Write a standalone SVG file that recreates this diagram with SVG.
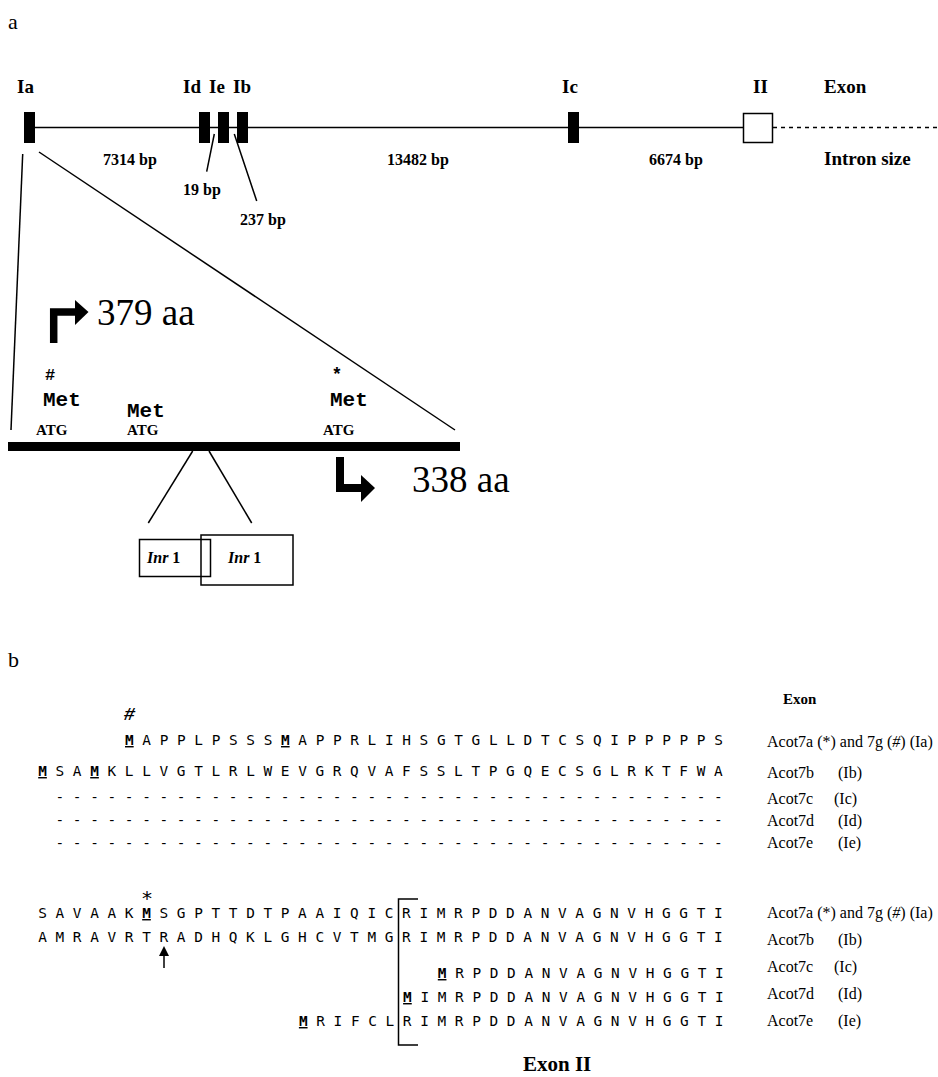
<svg xmlns="http://www.w3.org/2000/svg" width="938" height="1077" viewBox="0 0 938 1077">
<style>
.ser{font-family:"Liberation Serif","Times New Roman",serif;fill:#000}
.b{font-weight:bold}
.lbl{font-family:"Liberation Serif","Times New Roman",serif;font-weight:bold;font-size:19px}
.bp{font-family:"Liberation Serif","Times New Roman",serif;font-weight:bold;font-size:16px}
.seq{font-family:"DejaVu Sans Mono",monospace;font-size:14.4px;white-space:pre;fill:#000}
.m{font-weight:bold;text-decoration:underline}
.mono{font-family:"Liberation Mono","Courier New",monospace;font-weight:bold}
.acot{font-family:"Liberation Serif","Times New Roman",serif;font-size:16px}
.ln{stroke:#000;stroke-width:1.5;fill:none}
.ex{fill:#000}
</style>
<text class="ser" x="8" y="29" font-size="22">a</text>
<text class="ser" x="8" y="667" font-size="22">b</text>

<g id="gene">
  <line class="ln" x1="35" y1="127.5" x2="743" y2="127.5"/>
  <line class="ln" x1="773" y1="127.5" x2="938" y2="127.5" stroke-dasharray="4 4"/>
</g>
<g id="exonIa"><rect class="ex" x="24" y="112" width="11" height="31"/><text class="lbl" x="17" y="93">Ia</text></g>
<g id="exonId"><rect class="ex" x="199" y="112" width="11" height="31"/><text class="lbl" x="183" y="93">Id</text></g>
<g id="exonIe"><rect class="ex" x="218" y="112" width="11" height="31"/><text class="lbl" x="209" y="93">Ie</text></g>
<g id="exonIb"><rect class="ex" x="237" y="112" width="11" height="31"/><text class="lbl" x="233" y="93">Ib</text></g>
<g id="exonIc"><rect class="ex" x="568" y="112" width="11" height="31"/><text class="lbl" x="562" y="93">Ic</text></g>
<g id="exonII"><rect x="743.5" y="113.5" width="29" height="29" fill="#fff" stroke="#000" stroke-width="1.5"/><text class="lbl" x="753" y="93">II</text></g>
<g id="legend">
  <text class="lbl" x="824" y="93">Exon</text>
  <text class="lbl" x="824" y="165">Intron size</text>
</g>
<g id="introns">
  <text class="bp" x="103" y="165">7314 bp</text>
  <text class="bp" x="387" y="165">13482 bp</text>
  <text class="bp" x="649" y="165">6674 bp</text>
  <text class="bp" x="183" y="195">19 bp</text>
  <text class="bp" x="240" y="225">237 bp</text>
</g>

<g id="connectors">
  <line class="ln" x1="214.3" y1="134" x2="206.7" y2="171.7"/>
  <line class="ln" x1="234.3" y1="134" x2="256.7" y2="201"/>
  <line class="ln" x1="22.7" y1="154" x2="11" y2="430"/>
  <line class="ln" x1="39" y1="152" x2="455" y2="430"/>
  <line class="ln" x1="192.7" y1="451" x2="148.3" y2="523"/>
  <line class="ln" x1="209" y1="451" x2="251.7" y2="523"/>
</g>

<g id="promoter">
  <rect x="8" y="442" width="452" height="9" fill="#000"/>
  <path d="M53.7,343 V312 H77" fill="none" stroke="#000" stroke-width="7.5" stroke-linejoin="miter"/>
  <polygon points="75,300 88.5,312 75,325" fill="#000"/>
  <text class="ser" x="97" y="325" font-size="37">379 aa</text>
  <path d="M340,457 V488 H363" fill="none" stroke="#000" stroke-width="8" stroke-linejoin="miter"/>
  <polygon points="361,475 375,488 361,502" fill="#000"/>
  <text class="ser" x="412" y="492" font-size="37">338 aa</text>
  <text class="mono" x="50" y="380" font-size="17" text-anchor="middle">#</text>
  <text class="mono" x="43" y="406" font-size="21">Met</text>
  <text class="mono" x="127" y="417" font-size="21">Met</text>
  <text class="mono" x="337" y="380" font-size="18" text-anchor="middle">*</text>
  <text class="mono" x="330" y="406" font-size="21">Met</text>
  <text class="ser b" x="36" y="435" font-size="15">ATG</text>
  <text class="ser b" x="127" y="435" font-size="15">ATG</text>
  <text class="ser b" x="323" y="435" font-size="15">ATG</text>
</g>
<g id="inr1">
  <rect x="139.5" y="539.5" width="71" height="37" fill="none" stroke="#000" stroke-width="1.5"/>
  <text class="ser b" x="147" y="563" font-size="16"><tspan font-style="italic">Inr</tspan> 1</text>
</g>
<g id="inr2">
  <rect x="201" y="535" width="92" height="50" fill="none" stroke="#000" stroke-width="1.5"/>
  <text class="ser b" x="228" y="563" font-size="16"><tspan font-style="italic">Inr</tspan> 1</text>
</g>

<g id="alignment1">
  <text class="ser b" x="783" y="704" font-size="15">Exon</text>
  <text class="mono" x="129.4" y="720" font-size="19" text-anchor="middle" font-style="italic">#</text>
  <text class="seq" x="125" y="745"><tspan class="m">M</tspan> A P P L P S S S <tspan class="m">M</tspan> A P P R L I H S G T G L L D T C S Q I P P P P P S</text>
  <text class="seq" x="38.2" y="776"><tspan class="m">M</tspan> S A <tspan class="m">M</tspan> K L L V G T L R L W E V G R Q V A F S S L T P G Q E C S G L R K T F W A</text>
  <text class="seq" x="55.5" y="802">- - - - - - - - - - - - - - - - - - - - - - - - - - - - - - - - - - - - - - -</text>
  <text class="seq" x="55.5" y="825">- - - - - - - - - - - - - - - - - - - - - - - - - - - - - - - - - - - - - - -</text>
  <text class="seq" x="55.5" y="848">- - - - - - - - - - - - - - - - - - - - - - - - - - - - - - - - - - - - - - -</text>
  <text class="acot" x="767" y="747">Acot7a (*)  and 7g (<tspan font-style="italic">#</tspan>) (Ia)</text>
  <text class="acot" x="767" y="778">Acot7b<tspan x="838">(Ib)</tspan></text>
  <text class="acot" x="767" y="804">Acot7c<tspan x="834">(Ic)</tspan></text>
  <text class="acot" x="767" y="826">Acot7d<tspan x="838">(Id)</tspan></text>
  <text class="acot" x="767" y="848">Acot7e<tspan x="838">(Ie)</tspan></text>
</g>

<g id="alignment2">
  <text x="147" y="905" font-family="DejaVu Sans, sans-serif" font-size="20" text-anchor="middle">*</text>
  <text class="seq" x="38.2" y="918">S A V A A K <tspan class="m">M</tspan> S G P T T D T P A A I Q I C R I M R P D D A N V A G N V H G G T I</text>
  <text class="seq" x="38.2" y="942">A M R A V R T R A D H Q K L G H C V T M G R I M R P D D A N V A G N V H G G T I</text>
  <text class="seq" x="437.8" y="978"><tspan class="m">M</tspan> R P D D A N V A G N V H G G T I</text>
  <text class="seq" x="403.1" y="1002"><tspan class="m">M</tspan> I M R P D D A N V A G N V H G G T I</text>
  <text class="seq" x="298.9" y="1026"><tspan class="m">M</tspan> R I F C L R I M R P D D A N V A G N V H G G T I</text>
  <line class="ln" x1="164" y1="968" x2="164" y2="955"/>
  <polygon points="164,946 159,956 169,956" fill="#000"/>
  <path class="ln" d="M418,899 H398.5 V1045 H418"/>
  <text class="ser b" x="523" y="1071" font-size="21">Exon II</text>
  <text class="acot" x="767" y="918">Acot7a (*)  and 7g (<tspan font-style="italic">#</tspan>) (Ia)</text>
  <text class="acot" x="767" y="945">Acot7b<tspan x="838">(Ib)</tspan></text>
  <text class="acot" x="767" y="972">Acot7c<tspan x="834">(Ic)</tspan></text>
  <text class="acot" x="767" y="999">Acot7d<tspan x="838">(Id)</tspan></text>
  <text class="acot" x="767" y="1026">Acot7e<tspan x="838">(Ie)</tspan></text>
</g>
</svg>
